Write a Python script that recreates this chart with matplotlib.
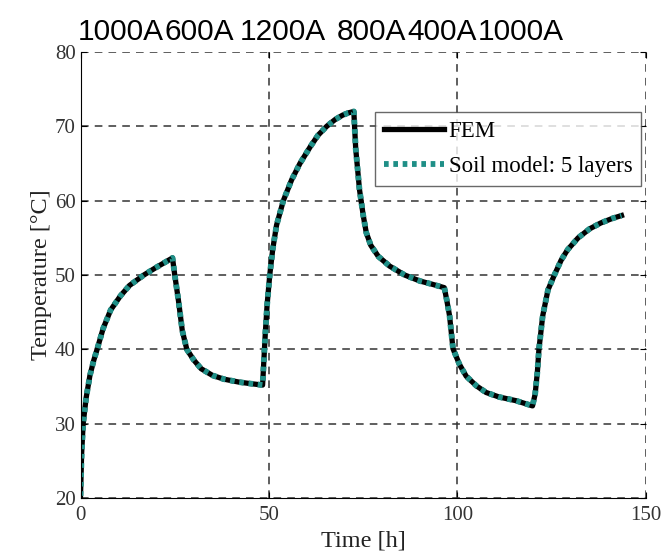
import numpy as np
import matplotlib.pyplot as plt

# time [h] and temperature [°C]
t_h = [0, 0.3, 0.7, 1.5, 2.5, 3.5, 4.4, 6, 8, 10.6, 13, 16.8, 20, 24.4,
       25, 26, 27, 28.2, 30, 32, 35, 38, 42, 45, 48.3,
       49, 49.5, 50.2, 51, 52, 53.8, 56, 58.2, 61, 63, 65.3, 67.5, 69.5, 71, 72.5,
       73, 74, 75, 75.8, 77, 79, 82, 86, 90, 93, 96.5,
       97.2, 97.9, 98.8, 100.5, 102.3, 105, 107.6, 111, 115.5, 119.9,
       120.6, 121.2, 121.6, 122.6, 124, 125.7, 127.5, 129.2, 132, 135, 138, 141, 143.5]
temp_fem = [20.3, 26, 30, 33.5, 36.5, 38.5, 40, 42.8, 45.3, 47.2, 48.6, 50, 51, 52.3,
            50, 46.5, 42.5, 40, 38.6, 37.4, 36.5, 36, 35.6, 35.4, 35.2,
            42, 46, 50, 53.5, 56.7, 60, 62.8, 65, 67.3, 68.8, 70, 70.9, 71.5, 71.8, 72,
            67, 61.5, 58, 55.7, 54, 52.5, 51.2, 50, 49.2, 48.8, 48.3,
            46.5, 44.5, 40.1, 38, 36.4, 35.1, 34.2, 33.6, 33.1, 32.4,
            34, 37, 40, 44.5, 48, 50, 52, 53.4, 55, 56.2, 57, 57.6, 58]
temp_soil = list(temp_fem)

currents = ["1000A", "600A", "1200A", "800A", "400A", "1000A"]
current_x = [78, 165, 240, 337, 407, 478]

plt.rcParams['font.family'] = ['Liberation Serif', 'DejaVu Serif']

fig = plt.figure(figsize=(6.67, 5.59), dpi=100)
ax = fig.add_axes([0.1207, 0.109, 0.8478, 0.798])

ax.plot(t_h, temp_fem, color='black', lw=3.8, solid_joinstyle='round', label='FEM')
ax.plot(t_h, temp_soil, color='#1f8f87', lw=4.2, ls=(0, (0.8, 0.8)), label='Soil model: 5 layers')

ax.set_xlim(0, 150)
ax.set_ylim(20, 80)
ax.set_xticks([0, 50, 100, 150])
ax.set_yticks([20, 30, 40, 50, 60, 70, 80])
ax.grid(True, color='#333333', ls=(0, (5, 4)), lw=1.1)
ax.spines['top'].set_visible(False)
ax.spines['right'].set_visible(False)
ax.tick_params(direction='in', top=True, right=True, labelsize=15, labelcolor='#333333', length=4)
ax.tick_params(axis='x', pad=6)
ax.set_xlabel('Time [h]', fontsize=17.5, color='#222222', labelpad=4)
ax.set_ylabel('Temperature [°C]', fontsize=17.5, color='#222222', labelpad=2)

leg = ax.legend(loc='upper right', bbox_to_anchor=(0.992, 0.865), fontsize=16.5, frameon=True,
                fancybox=False, handlelength=2.6, borderpad=0.4, labelspacing=0.6,
                handletextpad=0.2, borderaxespad=0)
leg.get_frame().set_edgecolor('#444444')
leg.get_frame().set_linewidth(1.0)

for lab, px in zip(currents, current_x):
    fig.text(px / 667, 1 - 40 / 559, lab, fontsize=21.5, va='baseline', ha='left',
             family=['Liberation Sans', 'DejaVu Sans'])

fig.savefig('out.png', dpi=100)
